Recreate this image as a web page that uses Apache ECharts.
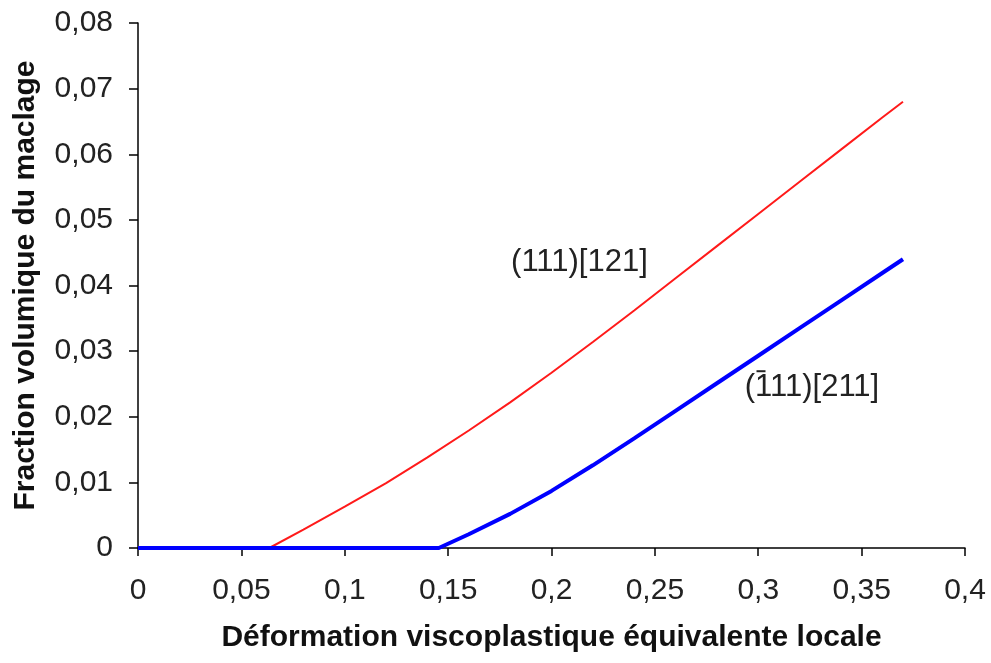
<!DOCTYPE html>
<html><head><meta charset="utf-8">
<script src="https://cdn.jsdelivr.net/npm/echarts@6/dist/echarts.min.js"></script>
<style>html,body{margin:0;padding:0;background:#fff}#c{width:991px;height:663px}</style>
</head><body><div id="c"></div>
<script>
const xTicks = [0, 0.05, 0.1, 0.15, 0.2, 0.25, 0.3, 0.35, 0.4];
const yTicks = [0, 0.01, 0.02, 0.03, 0.04, 0.05, 0.06, 0.07, 0.08];
const redX = [0, 0.0635, 0.08, 0.10, 0.12, 0.14, 0.16, 0.18, 0.20, 0.22, 0.24, 0.26, 0.28, 0.30, 0.32, 0.34, 0.36, 0.37];
const redY = [0, 0, 0.0028, 0.0063, 0.0099, 0.0138, 0.0179, 0.0222, 0.0267, 0.0314, 0.0362, 0.0411, 0.0460, 0.0509, 0.0558, 0.0607, 0.0656, 0.0680];
const blueX = [0, 0.1455, 0.16, 0.18, 0.20, 0.22, 0.24, 0.26, 0.28, 0.30, 0.32, 0.34, 0.36, 0.37];
const blueY = [0, 0, 0.0021, 0.0052, 0.0087, 0.0126, 0.0167, 0.0209, 0.0251, 0.0293, 0.0335, 0.0377, 0.0419, 0.0440];
const redLabel = "(111)[121]";
const blueLabel = "(111)[211]";
const redLabelPos = [0.2135, 0.0435];
const blueLabelPos = [0.326, 0.0245];

const fmt = v => String(Math.round(v * 1000) / 1000).replace('.', ',');
const font = '"Liberation Sans", Arial, sans-serif';
const chart = echarts.init(document.getElementById('c'), null, {renderer: 'canvas'});
chart.setOption({
  animation: false,
  backgroundColor: '#fff',
  grid: {left: 138, right: 26, top: 23, bottom: 115, containLabel: false, outerBoundsMode: 'none'},
  xAxis: {
    type: 'value', min: xTicks[0], max: xTicks[xTicks.length - 1], interval: 0.05,
    name: 'Déformation viscoplastique équivalente locale',
    nameLocation: 'middle', nameGap: 75,
    nameTextStyle: {fontFamily: font, fontWeight: 'bold', fontSize: 30, color: '#111'},
    axisLine: {lineStyle: {color: '#000', width: 1.5}},
    axisTick: {length: 8, lineStyle: {color: '#000', width: 1.5}},
    axisLabel: {fontFamily: font, fontSize: 30, color: '#222', margin: 28, formatter: fmt},
    splitLine: {show: false}
  },
  yAxis: {
    type: 'value', min: yTicks[0], max: yTicks[yTicks.length - 1], interval: 0.01,
    name: 'Fraction volumique du maclage',
    nameLocation: 'middle', nameGap: 97, nameRotate: 90,
    nameTextStyle: {fontFamily: font, fontWeight: 'bold', fontSize: 30, color: '#111'},
    axisLine: {show: true, lineStyle: {color: '#000', width: 1.5}},
    axisTick: {show: true, length: 9, lineStyle: {color: '#000', width: 1.5}},
    axisLabel: {fontFamily: font, fontSize: 30, color: '#222', margin: 25, formatter: fmt},
    splitLine: {show: false}
  },
  series: [
    {
      type: 'line', name: 'red', showSymbol: false, symbol: 'none', smooth: false,
      data: redX.map((x, i) => [x, redY[i]]),
      lineStyle: {color: '#ff1a1a', width: 2},
      z: 2,
      markPoint: {
        symbol: 'circle', symbolSize: 0,
        label: {show: true, position: 'inside', formatter: redLabel, fontFamily: font, fontSize: 31, color: '#222'},
        data: [{coord: redLabelPos}]
      }
    },
    {
      type: 'line', name: 'blue', showSymbol: false, symbol: 'none', smooth: false,
      data: blueX.map((x, i) => [x, blueY[i]]),
      lineStyle: {color: '#0000ff', width: 4},
      z: 3,
      markPoint: {
        symbol: 'circle', symbolSize: 0,
        data: [
          {coord: blueLabelPos, label: {show: true, position: 'inside', formatter: blueLabel, fontFamily: font, fontSize: 31, color: '#222'}},
          {coord: blueLabelPos, label: {show: true, position: 'inside', formatter: '{bar|}', offset: [-51, -16],
            rich: {bar: {width: 9, height: 2, backgroundColor: '#222'}}}}
        ]
      }
    }
  ]
});
</script></body></html>
